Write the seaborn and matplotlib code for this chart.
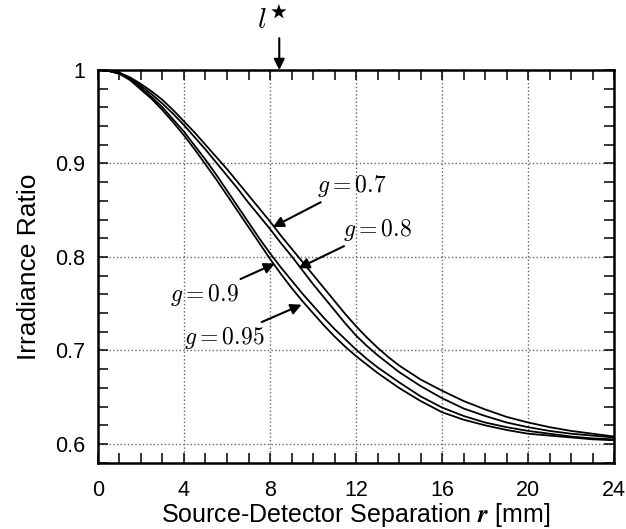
import numpy as np
import pandas as pd
import matplotlib
matplotlib.use("Agg")
import matplotlib.pyplot as plt
from matplotlib.ticker import MultipleLocator, FuncFormatter
import seaborn as sns

# Source-detector separation r [mm]
r_mm = [0, 0.5, 1, 1.5, 2, 2.5, 3, 3.5, 4, 4.5, 5, 5.5, 6, 6.5, 7, 7.5, 8, 8.5, 9, 9.5,
        10, 10.5, 11, 11.5, 12, 12.5, 13, 13.5, 14, 15, 16, 17, 18, 19, 20, 21, 22, 23, 24]

# Irradiance ratio, one list per anisotropy g
ratio_g070 = [1.000, .999, .997, .992, .985, .977, .968, .957, .945, .933, .920, .907, .894, .880,
              .866, .852, .838, .823, .809, .795, .781, .767, .753, .739, .726, .714, .703, .693,
              .684, .669, .657, .646, .637, .629, .623, .618, .614, .611, .608]
ratio_g080 = [1.000, .999, .997, .991, .983, .974, .964, .953, .941, .928, .915, .901, .887, .873,
              .858, .844, .830, .815, .801, .786, .771, .757, .743, .729, .716, .705, .695, .686,
              .677, .662, .649, .638, .630, .623, .618, .614, .611, .609, .607]
ratio_g090 = [1.000, .999, .996, .990, .981, .971, .960, .947, .934, .919, .904, .888, .871, .854,
              .837, .820, .804, .789, .775, .761, .748, .735, .723, .712, .701, .691, .682, .674,
              .666, .651, .639, .630, .623, .618, .614, .611, .608, .606, .605]
ratio_g095 = [1.000, .999, .996, .989, .979, .969, .957, .944, .930, .915, .899, .883, .866, .849,
              .832, .815, .798, .782, .767, .753, .740, .727, .715, .704, .694, .685, .676, .668,
              .660, .646, .634, .626, .620, .615, .611, .609, .607, .605, .604]

g_labels = ["0.7", "0.8", "0.9", "0.95"]

df = pd.DataFrame({
    "r": r_mm * 4,
    "ratio": ratio_g070 + ratio_g080 + ratio_g090 + ratio_g095,
    "g": np.repeat(g_labels, len(r_mm)),
})

sns.set_style("ticks", {"axes.edgecolor": "black", "xtick.color": "black",
                        "ytick.color": "black", "text.color": "black",
                        "axes.labelcolor": "black"})
plt.rcParams["font.family"] = ["Liberation Sans", "DejaVu Sans"]
plt.rcParams["mathtext.fontset"] = "cm"

fig = plt.figure(figsize=(6.26, 5.29), dpi=100)
ax = fig.add_axes([0.1565, 0.1248, 0.8245, 0.7429])

sns.lineplot(data=df, x="r", y="ratio", units="g", estimator=None,
             color="black", linewidth=1.3, ax=ax)

ax.set_xlim(0, 24)
ax.set_ylim(0.5797, 1.0)
ax.xaxis.set_major_locator(MultipleLocator(4))
ax.xaxis.set_minor_locator(MultipleLocator(1))
ax.yaxis.set_major_locator(MultipleLocator(0.1))
ax.yaxis.set_minor_locator(MultipleLocator(0.02))
ax.yaxis.set_major_formatter(FuncFormatter(lambda v, p: f"{v:g}"))

ax.tick_params(which="both", direction="in", top=True, right=True,
               length=7, width=1.1, labelsize=15.5)
ax.tick_params(axis="x", pad=12)
ax.tick_params(axis="y", pad=9)
ax.grid(which="major", linestyle=":", color="0.4", linewidth=1.0)
for s in ax.spines.values():
    s.set_linewidth(1.8)

ax.set_xlabel("Source-Detector Separation $\\boldsymbol{r}$ [mm]", fontsize=18, labelpad=0)
ax.set_ylabel("Irradiance Ratio", fontsize=19, labelpad=10)

arrow = dict(arrowstyle="-|>", color="black", lw=1.5, mutation_scale=16, shrinkA=0, shrinkB=0)
ax.annotate("$g = 0.7$", xy=(8.13, 0.832), xytext=(10.2, 0.876), fontsize=17,
            ha="left", va="center", arrowprops=arrow)
ax.annotate("$g = 0.8$", xy=(9.32, 0.788), xytext=(11.4, 0.829), fontsize=17,
            ha="left", va="center", arrowprops=arrow)
ax.annotate("$g = 0.9$", xy=(8.23, 0.793), xytext=(6.55, 0.759), fontsize=17,
            ha="right", va="center", arrowprops=arrow)
ax.annotate("$g = 0.95$", xy=(9.47, 0.749), xytext=(7.75, 0.713), fontsize=17,
            ha="right", va="center", arrowprops=arrow)

# l* marker above the plot
ax.annotate("", xy=(8.43, 1.0), xytext=(8.43, 1.034), annotation_clip=False,
            arrowprops=dict(arrowstyle="-|>", color="black", lw=1.5, mutation_scale=16,
                            shrinkA=0, shrinkB=0))
ax.text(8.1, 1.037, "$l^{\\bigstar}$", fontsize=21, ha="center", va="bottom")

fig.savefig("out.png", dpi=100)
